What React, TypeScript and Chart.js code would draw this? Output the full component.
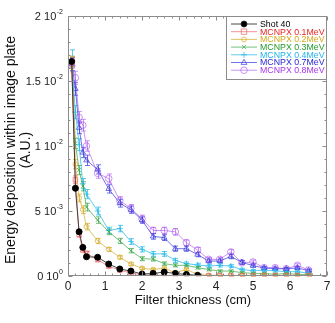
import React, { useEffect, useRef } from 'react';
import { Chart, registerables } from 'chart.js';

Chart.register(...registerables);

// Filter thickness (cm)
const thicknessMC = [0.1, 0.2, 0.3, 0.4, 0.5, 0.8, 1.1, 1.4, 1.7, 2.0, 2.3, 2.6, 2.9, 3.2, 3.5, 3.8, 4.1, 4.4, 4.7, 5.0, 5.3, 5.6, 5.9, 6.2, 6.5];
const thicknessShot = [0.1, 0.2, 0.3, 0.4, 0.5, 0.8, 1.1, 1.4, 1.7, 2.0, 2.3, 2.6, 2.9, 3.2, 3.5];

// Energy deposition, in units of 1e-3 (A.U.)
const shot40 = [16.5, 6.75, 3.4, 2.2, 1.48, 1.44, 0.92, 0.54, 0.38, 0.15, 0.2, 0.3, 0.2, 0.12, 0.05];
const mc01 = [16.4, 7.4, 3.2, 2.0, 1.75, 1.25, 0.75, 0.45, 0.22, 0.1, 0.06, 0.05, 0.04, 0.03, 0.02, 0.02, 0.02, 0.02, 0.02, 0.02, 0.02, 0.02, 0.02, 0.02, 0.02];
const mc02 = [16.5, 8.6, 6.0, 5.1, 3.8, 2.7, 2.05, 1.44, 0.92, 0.6, 0.5, 0.6, 0.25, 0.5, 0.13, 0.05, 0.04, 0.04, 0.04, 0.04, 0.04, 0.04, 0.04, 0.04, 0.04];
const mc03 = [16.5, 10.2, 8.15, 6.9, 5.3, 4.3, 3.4, 2.7, 1.95, 1.33, 1.3, 0.95, 0.82, 0.82, 0.64, 0.5, 0.38, 0.38, 0.26, 0.2, 0.2, 0.12, 0.2, 0.12, 0.12];
const mc04 = [16.6, 12.6, 10.1, 7.1, 6.3, 5.0, 3.5, 3.65, 2.65, 2.05, 1.7, 1.7, 1.2, 0.95, 0.85, 0.77, 0.82, 0.77, 0.5, 0.4, 0.45, 0.4, 0.33, 0.33, 0.22];
const mc07 = [16.3, 14.4, 11.4, 9.5, 8.9, 8.2, 6.7, 5.6, 5.1, 4.3, 3.05, 2.95, 2.1, 2.1, 1.65, 1.15, 1.15, 1.5, 1.05, 0.8, 0.62, 0.56, 0.56, 0.62, 0.42];
const mc08 = [16.2, 15.25, 12.2, 11.6, 10.0, 7.9, 7.5, 5.8, 5.2, 4.4, 3.5, 3.5, 3.4, 2.56, 2.0, 1.28, 1.28, 1.85, 1.02, 1.08, 0.64, 0.64, 0.56, 0.82, 0.46];

// Error bars (same units)
const err01 = [0.4, 0.3, 0.2, 0.15, 0.15, 0.12, 0.1, 0.08, 0.06, 0.05, 0.04, 0.03, 0.03, 0.03, 0.03, 0.03, 0.03, 0.03, 0.03, 0.03, 0.03, 0.03, 0.03, 0.03, 0.03];
const err02 = [0.4, 0.35, 0.3, 0.3, 0.25, 0.2, 0.15, 0.12, 0.1, 0.1, 0.08, 0.08, 0.06, 0.08, 0.05, 0.04, 0.04, 0.04, 0.04, 0.04, 0.04, 0.04, 0.04, 0.04, 0.04];
const err03 = [0.4, 0.4, 0.35, 0.35, 0.3, 0.25, 0.22, 0.2, 0.17, 0.15, 0.15, 0.13, 0.12, 0.12, 0.1, 0.1, 0.08, 0.08, 0.07, 0.06, 0.06, 0.05, 0.06, 0.05, 0.05];
const err04 = [0.8, 0.5, 0.45, 0.4, 0.35, 0.3, 0.25, 0.25, 0.22, 0.2, 0.18, 0.18, 0.15, 0.13, 0.13, 0.12, 0.12, 0.12, 0.1, 0.1, 0.1, 0.1, 0.08, 0.08, 0.07];
const err07 = [0.5, 0.5, 0.45, 0.4, 0.4, 0.35, 0.32, 0.3, 0.28, 0.25, 0.22, 0.22, 0.2, 0.2, 0.17, 0.15, 0.15, 0.17, 0.14, 0.12, 0.1, 0.1, 0.1, 0.1, 0.09];
const err08 = [0.5, 0.5, 0.45, 0.45, 0.4, 0.38, 0.35, 0.3, 0.3, 0.28, 0.25, 0.25, 0.25, 0.22, 0.2, 0.15, 0.15, 0.18, 0.14, 0.14, 0.11, 0.11, 0.1, 0.12, 0.09];

const seriesLabels = ['Shot 40', 'MCNPX 0.1MeV', 'MCNPX 0.2MeV', 'MCNPX 0.3MeV', 'MCNPX 0.4MeV', 'MCNPX 0.7MeV', 'MCNPX 0.8MeV'];

// Axis tick labels
const xTickValues = [0, 1, 2, 3, 4, 5, 6, 7];
const yTickValues = [0, 5, 10, 15, 20];
const yTickBase = ['0 10', '5 10', '1 10', '1.5 10', '2 10'];
const yTickExp = ['0', '-3', '-2', '-2', '-2'];

const FONT = '"Liberation Sans", Arial, Helvetica, sans-serif';

type Style = { text: string; line: string; point: string; fill: boolean; r: number };
const styles: Style[] = [
  { text: '#000000', line: 'rgba(40,40,40,0.85)', point: 'circle', fill: true, r: 3 },
  { text: '#ee2222', line: 'rgba(235,90,90,0.65)', point: 'rect', fill: false, r: 3.2 },
  { text: '#d4a81c', line: 'rgba(215,175,50,0.75)', point: 'circle', fill: false, r: 2.4 },
  { text: '#229a2c', line: 'rgba(55,165,70,0.7)', point: 'crossRot', fill: false, r: 2.8 },
  { text: '#1eb4ec', line: 'rgba(40,185,235,0.75)', point: 'cross', fill: false, r: 3 },
  { text: '#2626d6', line: 'rgba(60,60,220,0.72)', point: 'triangle', fill: false, r: 3.2 },
  { text: '#a535ec', line: 'rgba(175,90,238,0.65)', point: 'circle', fill: false, r: 3.3 },
];

const xs = [thicknessShot, thicknessMC, thicknessMC, thicknessMC, thicknessMC, thicknessMC, thicknessMC];
const ys = [shot40, mc01, mc02, mc03, mc04, mc07, mc08];
const errs: (number[] | null)[] = [null, err01, err02, err03, err04, err07, err08];

function drawMarker(ctx: CanvasRenderingContext2D, st: Style, x: number, y: number) {
  const r = st.r;
  ctx.beginPath();
  if (st.point === 'circle') {
    ctx.arc(x, y, r, 0, Math.PI * 2);
  } else if (st.point === 'rect') {
    const s = r * 0.85;
    ctx.rect(x - s, y - s, 2 * s, 2 * s);
  } else if (st.point === 'crossRot') {
    const s = r * 0.75;
    ctx.moveTo(x - s, y - s); ctx.lineTo(x + s, y + s);
    ctx.moveTo(x - s, y + s); ctx.lineTo(x + s, y - s);
  } else if (st.point === 'cross') {
    ctx.moveTo(x - r, y); ctx.lineTo(x + r, y);
    ctx.moveTo(x, y - r); ctx.lineTo(x, y + r);
  } else if (st.point === 'triangle') {
    ctx.moveTo(x, y - r);
    ctx.lineTo(x + r * 0.9, y + r * 0.6);
    ctx.lineTo(x - r * 0.9, y + r * 0.6);
    ctx.closePath();
  }
  if (st.fill) {
    ctx.fillStyle = '#000';
    ctx.fill();
  }
  ctx.stroke();
}

const errorBarPlugin = {
  id: 'errorBars',
  beforeDatasetsDraw(chart: any) {
    const ctx = chart.ctx;
    const yScale = chart.scales.y;
    ctx.save();
    for (let d = chart.data.datasets.length - 1; d >= 0; d--) {
      const e = errs[d];
      if (!e) continue;
      const meta = chart.getDatasetMeta(d);
      ctx.strokeStyle = styles[d].line;
      ctx.lineWidth = 1;
      meta.data.forEach((pt: any, i: number) => {
        const v = ys[d][i];
        const top = yScale.getPixelForValue(v + e[i]);
        const bot = yScale.getPixelForValue(Math.max(0, v - e[i]));
        const x = Math.round(pt.x) + 0.5;
        ctx.beginPath();
        ctx.moveTo(x, top);
        ctx.lineTo(x, bot);
        ctx.moveTo(x - 2.5, top);
        ctx.lineTo(x + 2.5, top);
        ctx.moveTo(x - 2.5, bot);
        ctx.lineTo(x + 2.5, bot);
        ctx.stroke();
      });
    }
    ctx.restore();
  },
};

const framePlugin = {
  id: 'frame',
  afterDraw(chart: any) {
    const ctx = chart.ctx;
    const { left, right, top, bottom } = chart.chartArea;
    const xS = chart.scales.x;
    const yS = chart.scales.y;
    ctx.save();
    ctx.strokeStyle = '#8c8c8c';
    ctx.lineWidth = 1;
    const L = Math.round(left) + 0.5;
    const R = Math.round(right) - 0.5;
    const T = Math.round(top) + 0.5;
    const B = Math.round(bottom) - 0.5;
    ctx.strokeRect(L, T, R - L, B - T);
    ctx.beginPath();
    for (let k = 0; k <= 35; k++) {
      const x = Math.round(xS.getPixelForValue(k * 0.2)) + 0.5;
      const len = k % 5 === 0 ? 4 : 2;
      ctx.moveTo(x, B);
      ctx.lineTo(x, B - len);
      ctx.moveTo(x, T);
      ctx.lineTo(x, T + len);
    }
    for (let k = 0; k <= 20; k++) {
      const y = Math.round(yS.getPixelForValue(k)) + 0.5;
      const len = k % 5 === 0 ? 4 : 2;
      ctx.moveTo(L, y);
      ctx.lineTo(L + len, y);
      ctx.moveTo(R, y);
      ctx.lineTo(R - len, y);
    }
    ctx.stroke();

    // y tick labels with superscript exponents
    ctx.fillStyle = '#222';
    ctx.textBaseline = 'middle';
    yTickValues.forEach((v, i) => {
      const y = yS.getPixelForValue(v);
      ctx.font = `7px ${FONT}`;
      const ew = ctx.measureText(yTickExp[i]).width;
      ctx.textAlign = 'right';
      ctx.fillText(yTickExp[i], 63, y - 4);
      ctx.font = `11px ${FONT}`;
      ctx.fillText(yTickBase[i], 63 - ew - 0.5, y + 0.5);
    });

    // axis titles
    ctx.textAlign = 'center';
    ctx.textBaseline = 'middle';
    ctx.font = `13px ${FONT}`;
    ctx.fillStyle = '#111';
    ctx.fillText('Filter thickness (cm)', 193, 300);
    ctx.font = `14px ${FONT}`;
    ctx.save();
    ctx.translate(11, 150);
    ctx.rotate(-Math.PI / 2);
    ctx.fillText('Energy deposition within image plate', 0, 0);
    ctx.restore();
    ctx.save();
    ctx.translate(26, 150);
    ctx.rotate(-Math.PI / 2);
    ctx.fillText('(A.U.)', 0, 0);
    ctx.restore();

    // legend
    const bx = 226.5, by = T, bw = R - 226.5, bh = 63;
    ctx.fillStyle = '#ffffff';
    ctx.fillRect(bx, by, bw, bh);
    ctx.strokeStyle = '#8c8c8c';
    ctx.strokeRect(bx, by, bw, bh);
    seriesLabels.forEach((lab, i) => {
      const yy = 24 + i * 7.7;
      const st = styles[i];
      ctx.strokeStyle = st.line;
      ctx.lineWidth = 1;
      ctx.beginPath();
      ctx.moveTo(231, yy);
      ctx.lineTo(257, yy);
      ctx.stroke();
      drawMarker(ctx, st, 244, yy);
      ctx.fillStyle = st.text;
      ctx.font = `8.8px ${FONT}`;
      ctx.textAlign = 'left';
      ctx.fillText(lab, 260, yy + 0.5);
    });
    ctx.restore();
  },
};

export default function App() {
  const ref = useRef<HTMLCanvasElement | null>(null);
  useEffect(() => {
    document.body.style.margin = '0';
    const canvas = ref.current;
    if (!canvas) return;
    const datasets = seriesLabels.map((lab, i) => ({
      label: lab,
      data: xs[i].map((x, j) => ({ x, y: ys[i][j] })),
      borderColor: styles[i].line,
      backgroundColor: styles[i].fill ? '#000000' : 'rgba(255,255,255,0)',
      pointBorderColor: styles[i].fill ? '#000000' : styles[i].line,
      pointBackgroundColor: styles[i].fill ? '#000000' : 'rgba(255,255,255,0)',
      pointStyle: styles[i].point,
      pointRadius: styles[i].r,
      pointBorderWidth: 1,
      borderWidth: 1,
      tension: 0,
      fill: false,
    }));
    const chart = new Chart(canvas, {
      type: 'line',
      data: { datasets },
      options: {
        responsive: false,
        animation: false,
        devicePixelRatio: 1,
        layout: { padding: { top: 16, right: 8, left: 0, bottom: 0 } },
        plugins: { legend: { display: false }, tooltip: { enabled: false } },
        scales: {
          x: {
            type: 'linear',
            min: 0,
            max: 7,
            afterFit: (s: any) => { s.height = 47; },
            afterBuildTicks: (s: any) => { s.ticks = xTickValues.map((v) => ({ value: v })); },
            ticks: { color: '#222', font: { family: FONT, size: 12 }, padding: 3 },
            grid: { display: false, drawTicks: false },
            border: { display: false },
          },
          y: {
            type: 'linear',
            min: 0,
            max: 20,
            afterFit: (s: any) => { s.width = 68; },
            ticks: { display: false },
            grid: { display: false, drawTicks: false },
            border: { display: false },
          },
        },
      },
      plugins: [errorBarPlugin, framePlugin],
    });
    return () => chart.destroy();
  }, []);
  return (
    <div style={{ width: 335, height: 323 }}>
      <canvas ref={ref} width={335} height={323} style={{ display: 'block' }} />
    </div>
  );
}
